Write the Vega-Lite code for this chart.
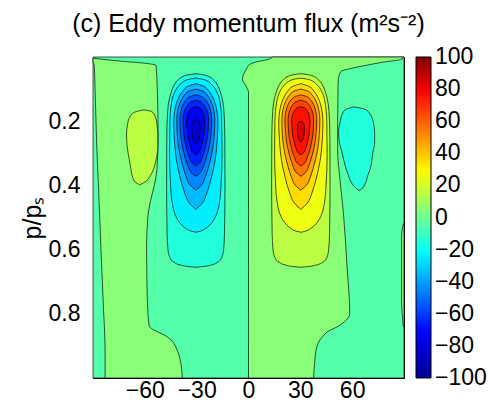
{
"$schema":"https://vega.github.io/schema/vega-lite/v6.json",
"width":311,"height":321,
"autosize":{"type":"none"},
"padding":{"left":93,"top":57,"right":84,"bottom":28},
"background":"white",
"title":{"text":"(c) Eddy momentum flux (m²s⁻²)","font":"Liberation Sans","fontSize":25,"fontWeight":"normal","color":"black","anchor":"middle","frame":"group","baseline":"alphabetic","offset":-2},
"config":{
 "view":{"stroke":"black","strokeWidth":1},
 "axis":{"labelFont":"Liberation Sans","labelFontSize":23,"labelColor":"black","titleFont":"Liberation Sans","titleFontSize":25,"titleFontWeight":"normal","titleColor":"black","domain":false,"grid":true,"gridColor":"black","gridDash":[1.5,2.5],"gridWidth":1,"gridOpacity":0.9,"tickColor":"black","tickSize":-5,"zindex":1,"labelFlush":false,"labelOverlap":false},
 "legend":{"labelFont":"Liberation Sans","labelFontSize":23,"labelColor":"black"}
},
"data":{"values":[
{"k":0,"v":-5,"p":0,"a":-90,"b":90},{"k":0,"v":-5,"p":1,"a":-90,"b":90},
{"k":1,"v":5,"p":0.004,"a":-90,"b":-89.6},{"k":1,"v":5,"p":0.012,"a":-90,"b":-76},{"k":1,"v":5,"p":0.02,"a":-89.6,"b":-59},{"k":1,"v":5,"p":0.026,"a":-89.3,"b":-53.5},{"k":1,"v":5,"p":0.1,"a":-88.8,"b":-52.8},{"k":1,"v":5,"p":0.25,"a":-88,"b":-52.3},{"k":1,"v":5,"p":0.35,"a":-87.3,"b":-53},{"k":1,"v":5,"p":0.4,"a":-86.8,"b":-54.5},{"k":1,"v":5,"p":0.45,"a":-86.5,"b":-56.8},{"k":1,"v":5,"p":0.5,"a":-86.1,"b":-58.3},{"k":1,"v":5,"p":0.6,"a":-85.4,"b":-59},{"k":1,"v":5,"p":0.7,"a":-84.6,"b":-58.8},{"k":1,"v":5,"p":0.8,"a":-83.8,"b":-58.2},{"k":1,"v":5,"p":0.84,"a":-83.4,"b":-57.3},{"k":1,"v":5,"p":0.855,"a":-83.3,"b":-53},{"k":1,"v":5,"p":0.87,"a":-83.2,"b":-47.5},{"k":1,"v":5,"p":0.885,"a":-83.1,"b":-44.3},{"k":1,"v":5,"p":0.91,"a":-83,"b":-41.5},{"k":1,"v":5,"p":0.94,"a":-83,"b":-39.7},{"k":1,"v":5,"p":1,"a":-83,"b":-38.3},
{"k":2,"v":5,"p":0,"a":14,"b":90},{"k":2,"v":5,"p":0.008,"a":11,"b":88},{"k":2,"v":5,"p":0.016,"a":4,"b":78},{"k":2,"v":5,"p":0.026,"a":0,"b":68},{"k":2,"v":5,"p":0.036,"a":-1,"b":59},{"k":2,"v":5,"p":0.045,"a":-2,"b":53.5},{"k":2,"v":5,"p":0.07,"a":-3.5,"b":52},{"k":2,"v":5,"p":0.09,"a":-1.5,"b":51.8},{"k":2,"v":5,"p":0.11,"a":0,"b":51.8},{"k":2,"v":5,"p":0.2,"a":0,"b":51.6},{"k":2,"v":5,"p":0.29,"a":0,"b":51.6},{"k":2,"v":5,"p":0.39,"a":0,"b":53.1},{"k":2,"v":5,"p":0.49,"a":0,"b":55},{"k":2,"v":5,"p":0.65,"a":0,"b":57},{"k":2,"v":5,"p":0.8,"a":0,"b":58.6},{"k":2,"v":5,"p":0.82,"a":0,"b":56.5},{"k":2,"v":5,"p":0.84,"a":0,"b":51.5},{"k":2,"v":5,"p":0.855,"a":0,"b":46},{"k":2,"v":5,"p":0.87,"a":0,"b":43},{"k":2,"v":5,"p":0.9,"a":0,"b":39.7},{"k":2,"v":5,"p":0.95,"a":0,"b":38.3},{"k":2,"v":5,"p":1,"a":0,"b":37.7},
{"k":3,"v":5,"p":0.52,"a":89.6,"b":90},{"k":3,"v":5,"p":0.56,"a":88.6,"b":90},{"k":3,"v":5,"p":0.75,"a":88.6,"b":90},{"k":3,"v":5,"p":0.84,"a":89.6,"b":90},
{"k":4,"v":15,"p":0.165,"a":-60.5,"b":-60.5},{"k":4,"v":15,"p":0.17,"a":-65,"b":-56},{"k":4,"v":15,"p":0.185,"a":-68.5,"b":-54},{"k":4,"v":15,"p":0.21,"a":-70,"b":-53},{"k":4,"v":15,"p":0.24,"a":-70.6,"b":-52.5},{"k":4,"v":15,"p":0.28,"a":-70.2,"b":-52.5},{"k":4,"v":15,"p":0.32,"a":-69,"b":-53.5},{"k":4,"v":15,"p":0.35,"a":-68,"b":-55},{"k":4,"v":15,"p":0.375,"a":-67,"b":-57.5},{"k":4,"v":15,"p":0.39,"a":-65.5,"b":-60},{"k":4,"v":15,"p":0.398,"a":-63,"b":-63},
{"k":5,"v":-15,"p":0.156,"a":60.5,"b":61.5},{"k":5,"v":-15,"p":0.163,"a":56.5,"b":67.5},{"k":5,"v":-15,"p":0.175,"a":54.5,"b":70},{"k":5,"v":-15,"p":0.204,"a":53,"b":72.3},{"k":5,"v":-15,"p":0.235,"a":52.1,"b":73},{"k":5,"v":-15,"p":0.266,"a":52.6,"b":73},{"k":5,"v":-15,"p":0.297,"a":54.1,"b":72},{"k":5,"v":-15,"p":0.349,"a":56.5,"b":70.4},{"k":5,"v":-15,"p":0.37,"a":57.9,"b":69},{"k":5,"v":-15,"p":0.395,"a":60,"b":67.5},{"k":5,"v":-15,"p":0.411,"a":62.7,"b":65.5},{"k":5,"v":-15,"p":0.416,"a":64,"b":64},
{"k":11,"v":-15,"p":0.052,"a":-30.5,"b":-30.5},{"k":11,"v":-15,"p":0.056,"a":-35.5,"b":-25.5},{"k":11,"v":-15,"p":0.062,"a":-38.5,"b":-22.5},{"k":11,"v":-15,"p":0.07,"a":-40.5,"b":-20.5},{"k":11,"v":-15,"p":0.085,"a":-42.8,"b":-18.2},{"k":11,"v":-15,"p":0.1,"a":-44.1,"b":-16.9},{"k":11,"v":-15,"p":0.13,"a":-45.8,"b":-15.2},{"k":11,"v":-15,"p":0.17,"a":-46.8,"b":-14.2},{"k":11,"v":-15,"p":0.25,"a":-47.3,"b":-13.7},{"k":11,"v":-15,"p":0.4,"a":-47.4,"b":-13.6},{"k":11,"v":-15,"p":0.55,"a":-47.1,"b":-13.9},{"k":11,"v":-15,"p":0.6,"a":-46.6,"b":-14.4},{"k":11,"v":-15,"p":0.625,"a":-45.5,"b":-15.5},{"k":11,"v":-15,"p":0.64,"a":-43,"b":-18},{"k":11,"v":-15,"p":0.648,"a":-39.5,"b":-21.5},{"k":11,"v":-15,"p":0.653,"a":-34.5,"b":-26.5},{"k":11,"v":-15,"p":0.655,"a":-30.5,"b":-30.5},
{"k":12,"v":-25,"p":0.066,"a":-30.5,"b":-30.5},{"k":12,"v":-25,"p":0.07,"a":-35,"b":-26},{"k":12,"v":-25,"p":0.078,"a":-38,"b":-23},{"k":12,"v":-25,"p":0.09,"a":-40.5,"b":-20.5},{"k":12,"v":-25,"p":0.11,"a":-42.8,"b":-18.2},{"k":12,"v":-25,"p":0.14,"a":-44.5,"b":-16.5},{"k":12,"v":-25,"p":0.2,"a":-45.5,"b":-15.5},{"k":12,"v":-25,"p":0.3,"a":-45.7,"b":-15.3},{"k":12,"v":-25,"p":0.4,"a":-45.1,"b":-15.9},{"k":12,"v":-25,"p":0.45,"a":-44.3,"b":-16.7},{"k":12,"v":-25,"p":0.49,"a":-42.5,"b":-18.5},{"k":12,"v":-25,"p":0.515,"a":-40,"b":-21},{"k":12,"v":-25,"p":0.533,"a":-36.5,"b":-24.5},{"k":12,"v":-25,"p":0.542,"a":-33.5,"b":-27.5},{"k":12,"v":-25,"p":0.546,"a":-30.5,"b":-30.5},
{"k":13,"v":-35,"p":0.083,"a":-30.5,"b":-30.5},{"k":13,"v":-35,"p":0.091,"a":-35,"b":-26},{"k":13,"v":-35,"p":0.107,"a":-38.2,"b":-22.8},{"k":13,"v":-35,"p":0.13,"a":-40.7,"b":-20.3},{"k":13,"v":-35,"p":0.161,"a":-42.5,"b":-18.5},{"k":13,"v":-35,"p":0.201,"a":-43.3,"b":-17.7},{"k":13,"v":-35,"p":0.259,"a":-42.9,"b":-18.1},{"k":13,"v":-35,"p":0.318,"a":-41.8,"b":-19.2},{"k":13,"v":-35,"p":0.377,"a":-39.5,"b":-21.5},{"k":13,"v":-35,"p":0.424,"a":-36.9,"b":-24.1},{"k":13,"v":-35,"p":0.455,"a":-34.3,"b":-26.7},{"k":13,"v":-35,"p":0.475,"a":-30.5,"b":-30.5},
{"k":14,"v":-45,"p":0.1,"a":-30.5,"b":-30.5},{"k":14,"v":-45,"p":0.106,"a":-34.4,"b":-26.6},{"k":14,"v":-45,"p":0.119,"a":-37.1,"b":-23.9},{"k":14,"v":-45,"p":0.138,"a":-39.3,"b":-21.7},{"k":14,"v":-45,"p":0.163,"a":-40.8,"b":-20.2},{"k":14,"v":-45,"p":0.195,"a":-41.5,"b":-19.5},{"k":14,"v":-45,"p":0.242,"a":-41.2,"b":-19.8},{"k":14,"v":-45,"p":0.289,"a":-40.2,"b":-20.8},{"k":14,"v":-45,"p":0.336,"a":-38.2,"b":-22.8},{"k":14,"v":-45,"p":0.374,"a":-36,"b":-25},{"k":14,"v":-45,"p":0.399,"a":-33.8,"b":-27.2},{"k":14,"v":-45,"p":0.415,"a":-30.5,"b":-30.5},
{"k":15,"v":-55,"p":0.118,"a":-30.5,"b":-30.5},{"k":15,"v":-55,"p":0.123,"a":-33.7,"b":-27.3},{"k":15,"v":-55,"p":0.133,"a":-36,"b":-25},{"k":15,"v":-55,"p":0.148,"a":-37.9,"b":-23.1},{"k":15,"v":-55,"p":0.169,"a":-39.1,"b":-21.9},{"k":15,"v":-55,"p":0.194,"a":-39.7,"b":-21.3},{"k":15,"v":-55,"p":0.232,"a":-39.4,"b":-21.6},{"k":15,"v":-55,"p":0.27,"a":-38.6,"b":-22.4},{"k":15,"v":-55,"p":0.309,"a":-36.9,"b":-24.1},{"k":15,"v":-55,"p":0.339,"a":-35.1,"b":-25.9},{"k":15,"v":-55,"p":0.359,"a":-33.3,"b":-27.7},{"k":15,"v":-55,"p":0.372,"a":-30.5,"b":-30.5},
{"k":16,"v":-65,"p":0.135,"a":-30.5,"b":-30.5},{"k":16,"v":-65,"p":0.139,"a":-33.1,"b":-27.9},{"k":16,"v":-65,"p":0.147,"a":-34.9,"b":-26.1},{"k":16,"v":-65,"p":0.16,"a":-36.4,"b":-24.6},{"k":16,"v":-65,"p":0.176,"a":-37.5,"b":-23.5},{"k":16,"v":-65,"p":0.197,"a":-37.9,"b":-23.1},{"k":16,"v":-65,"p":0.227,"a":-37.7,"b":-23.3},{"k":16,"v":-65,"p":0.258,"a":-37,"b":-24},{"k":16,"v":-65,"p":0.289,"a":-35.7,"b":-25.3},{"k":16,"v":-65,"p":0.313,"a":-34.2,"b":-26.8},{"k":16,"v":-65,"p":0.33,"a":-32.7,"b":-28.3},{"k":16,"v":-65,"p":0.34,"a":-30.5,"b":-30.5},
{"k":17,"v":-75,"p":0.155,"a":-30.5,"b":-30.5},{"k":17,"v":-75,"p":0.158,"a":-32.4,"b":-28.6},{"k":17,"v":-75,"p":0.164,"a":-33.7,"b":-27.3},{"k":17,"v":-75,"p":0.173,"a":-34.7,"b":-26.3},{"k":17,"v":-75,"p":0.185,"a":-35.5,"b":-25.5},{"k":17,"v":-75,"p":0.2,"a":-35.8,"b":-25.2},{"k":17,"v":-75,"p":0.223,"a":-35.6,"b":-25.4},{"k":17,"v":-75,"p":0.245,"a":-35.2,"b":-25.8},{"k":17,"v":-75,"p":0.268,"a":-34.2,"b":-26.8},{"k":17,"v":-75,"p":0.286,"a":-33.2,"b":-27.8},{"k":17,"v":-75,"p":0.298,"a":-32.1,"b":-28.9},{"k":17,"v":-75,"p":0.305,"a":-30.5,"b":-30.5},
{"k":18,"v":-85,"p":0.195,"a":-30.5,"b":-30.5},{"k":18,"v":-85,"p":0.199,"a":-32,"b":-29},{"k":18,"v":-85,"p":0.21,"a":-32.85,"b":-28.15},{"k":18,"v":-85,"p":0.217,"a":-33,"b":-28},{"k":18,"v":-85,"p":0.239,"a":-32.7,"b":-28.3},{"k":18,"v":-85,"p":0.259,"a":-31.75,"b":-29.25},{"k":18,"v":-85,"p":0.268,"a":-30.5,"b":-30.5},
{"k":21,"v":15,"p":0.052,"a":30.3,"b":30.3},{"k":21,"v":15,"p":0.056,"a":25.3,"b":35.3},{"k":21,"v":15,"p":0.062,"a":22.3,"b":38.3},{"k":21,"v":15,"p":0.07,"a":20.3,"b":40.3},{"k":21,"v":15,"p":0.085,"a":18,"b":42.6},{"k":21,"v":15,"p":0.1,"a":16.7,"b":43.9},{"k":21,"v":15,"p":0.13,"a":15,"b":45.6},{"k":21,"v":15,"p":0.17,"a":14,"b":46.6},{"k":21,"v":15,"p":0.25,"a":13.5,"b":47.1},{"k":21,"v":15,"p":0.4,"a":13.4,"b":47.2},{"k":21,"v":15,"p":0.55,"a":13.7,"b":46.9},{"k":21,"v":15,"p":0.6,"a":14.2,"b":46.4},{"k":21,"v":15,"p":0.625,"a":15.3,"b":45.3},{"k":21,"v":15,"p":0.64,"a":17.8,"b":42.8},{"k":21,"v":15,"p":0.648,"a":21.3,"b":39.3},{"k":21,"v":15,"p":0.653,"a":26.3,"b":34.3},{"k":21,"v":15,"p":0.655,"a":30.3,"b":30.3},
{"k":22,"v":25,"p":0.066,"a":30.3,"b":30.3},{"k":22,"v":25,"p":0.07,"a":25.8,"b":34.8},{"k":22,"v":25,"p":0.078,"a":22.8,"b":37.8},{"k":22,"v":25,"p":0.09,"a":20.3,"b":40.3},{"k":22,"v":25,"p":0.11,"a":18,"b":42.6},{"k":22,"v":25,"p":0.14,"a":16.3,"b":44.3},{"k":22,"v":25,"p":0.2,"a":15.3,"b":45.3},{"k":22,"v":25,"p":0.3,"a":15.1,"b":45.5},{"k":22,"v":25,"p":0.4,"a":15.7,"b":44.9},{"k":22,"v":25,"p":0.45,"a":16.5,"b":44.1},{"k":22,"v":25,"p":0.49,"a":18.3,"b":42.3},{"k":22,"v":25,"p":0.515,"a":20.8,"b":39.8},{"k":22,"v":25,"p":0.533,"a":24.3,"b":36.3},{"k":22,"v":25,"p":0.542,"a":27.3,"b":33.3},{"k":22,"v":25,"p":0.546,"a":30.3,"b":30.3},
{"k":23,"v":35,"p":0.083,"a":30.3,"b":30.3},{"k":23,"v":35,"p":0.091,"a":25.8,"b":34.8},{"k":23,"v":35,"p":0.107,"a":22.6,"b":38},{"k":23,"v":35,"p":0.13,"a":20.1,"b":40.5},{"k":23,"v":35,"p":0.161,"a":18.3,"b":42.3},{"k":23,"v":35,"p":0.201,"a":17.5,"b":43.1},{"k":23,"v":35,"p":0.259,"a":17.9,"b":42.7},{"k":23,"v":35,"p":0.318,"a":19,"b":41.6},{"k":23,"v":35,"p":0.377,"a":21.3,"b":39.3},{"k":23,"v":35,"p":0.424,"a":23.9,"b":36.7},{"k":23,"v":35,"p":0.455,"a":26.5,"b":34.1},{"k":23,"v":35,"p":0.475,"a":30.3,"b":30.3},
{"k":24,"v":45,"p":0.1,"a":30.3,"b":30.3},{"k":24,"v":45,"p":0.106,"a":26.4,"b":34.2},{"k":24,"v":45,"p":0.119,"a":23.7,"b":36.9},{"k":24,"v":45,"p":0.138,"a":21.5,"b":39.1},{"k":24,"v":45,"p":0.163,"a":20,"b":40.6},{"k":24,"v":45,"p":0.195,"a":19.3,"b":41.3},{"k":24,"v":45,"p":0.242,"a":19.6,"b":41},{"k":24,"v":45,"p":0.289,"a":20.6,"b":40},{"k":24,"v":45,"p":0.336,"a":22.6,"b":38},{"k":24,"v":45,"p":0.374,"a":24.8,"b":35.8},{"k":24,"v":45,"p":0.399,"a":27,"b":33.6},{"k":24,"v":45,"p":0.415,"a":30.3,"b":30.3},
{"k":25,"v":55,"p":0.118,"a":30.3,"b":30.3},{"k":25,"v":55,"p":0.123,"a":27.1,"b":33.5},{"k":25,"v":55,"p":0.133,"a":24.8,"b":35.8},{"k":25,"v":55,"p":0.148,"a":22.9,"b":37.7},{"k":25,"v":55,"p":0.169,"a":21.7,"b":38.9},{"k":25,"v":55,"p":0.194,"a":21.1,"b":39.5},{"k":25,"v":55,"p":0.232,"a":21.4,"b":39.2},{"k":25,"v":55,"p":0.27,"a":22.2,"b":38.4},{"k":25,"v":55,"p":0.309,"a":23.9,"b":36.7},{"k":25,"v":55,"p":0.339,"a":25.7,"b":34.9},{"k":25,"v":55,"p":0.359,"a":27.5,"b":33.1},{"k":25,"v":55,"p":0.372,"a":30.3,"b":30.3},
{"k":26,"v":65,"p":0.135,"a":30.3,"b":30.3},{"k":26,"v":65,"p":0.139,"a":27.7,"b":32.9},{"k":26,"v":65,"p":0.147,"a":25.9,"b":34.7},{"k":26,"v":65,"p":0.16,"a":24.4,"b":36.2},{"k":26,"v":65,"p":0.176,"a":23.3,"b":37.3},{"k":26,"v":65,"p":0.197,"a":22.9,"b":37.7},{"k":26,"v":65,"p":0.227,"a":23.1,"b":37.5},{"k":26,"v":65,"p":0.258,"a":23.8,"b":36.8},{"k":26,"v":65,"p":0.289,"a":25.1,"b":35.5},{"k":26,"v":65,"p":0.313,"a":26.6,"b":34},{"k":26,"v":65,"p":0.33,"a":28.1,"b":32.5},{"k":26,"v":65,"p":0.34,"a":30.3,"b":30.3},
{"k":27,"v":75,"p":0.155,"a":30.3,"b":30.3},{"k":27,"v":75,"p":0.158,"a":28.4,"b":32.2},{"k":27,"v":75,"p":0.164,"a":27.1,"b":33.5},{"k":27,"v":75,"p":0.173,"a":26.1,"b":34.5},{"k":27,"v":75,"p":0.185,"a":25.3,"b":35.3},{"k":27,"v":75,"p":0.2,"a":25,"b":35.6},{"k":27,"v":75,"p":0.223,"a":25.2,"b":35.4},{"k":27,"v":75,"p":0.245,"a":25.6,"b":35},{"k":27,"v":75,"p":0.268,"a":26.6,"b":34},{"k":27,"v":75,"p":0.286,"a":27.6,"b":33},{"k":27,"v":75,"p":0.298,"a":28.7,"b":31.9},{"k":27,"v":75,"p":0.305,"a":30.3,"b":30.3},
{"k":28,"v":85,"p":0.2,"a":30.3,"b":30.3},{"k":28,"v":85,"p":0.204,"a":29,"b":31.6},{"k":28,"v":85,"p":0.214,"a":28.3,"b":32.3},{"k":28,"v":85,"p":0.222,"a":28.2,"b":32.4},{"k":28,"v":85,"p":0.24,"a":28.4,"b":32.2},{"k":28,"v":85,"p":0.258,"a":29.3,"b":31.3},{"k":28,"v":85,"p":0.266,"a":30.3,"b":30.3}
]},
"mark":{"type":"area","orient":"horizontal","interpolate":"monotone","stroke":"black","strokeWidth":0.8,"strokeOpacity":0.85},
"encoding":{
 "y":{"field":"p","type":"quantitative","scale":{"domain":[0,1],"reverse":true,"nice":false,"zero":false},
  "axis":{"values":[0.2,0.4,0.6,0.8],"format":".1f","title":"p/pₛ","titlePadding":3,"labelPadding":18}},
 "x":{"field":"a","type":"quantitative","stack":null,"scale":{"domain":[-90,90],"nice":false,"zero":false},
  "axis":{"values":[-60,-30,0,30,60],"title":null,"labelPadding":6}},
 "x2":{"field":"b"},
 "detail":{"field":"k","type":"nominal"},
 "color":{"field":"v","type":"quantitative",
  "scale":{"type":"linear","domain":[-100,-71.6,-21.6,28.4,78.4,100],"range":["#000090","#0000ff","#00ffff","#ffff00","#ff0000","#800000"],"interpolate":"rgb"},
  "legend":{"title":null,"direction":"vertical","orient":"right","offset":10,"padding":0,"gradientLength":321,"gradientThickness":15,"gradientStrokeColor":"black","gradientStrokeWidth":1,"values":[-100,-80,-60,-40,-20,0,20,40,60,80,100],"labelBaseline":"middle","labelOffset":4,"labelOverlap":false,
   "encode":{"labels":{"update":{"baseline":{"value":"middle"}}}}}}
}
}
